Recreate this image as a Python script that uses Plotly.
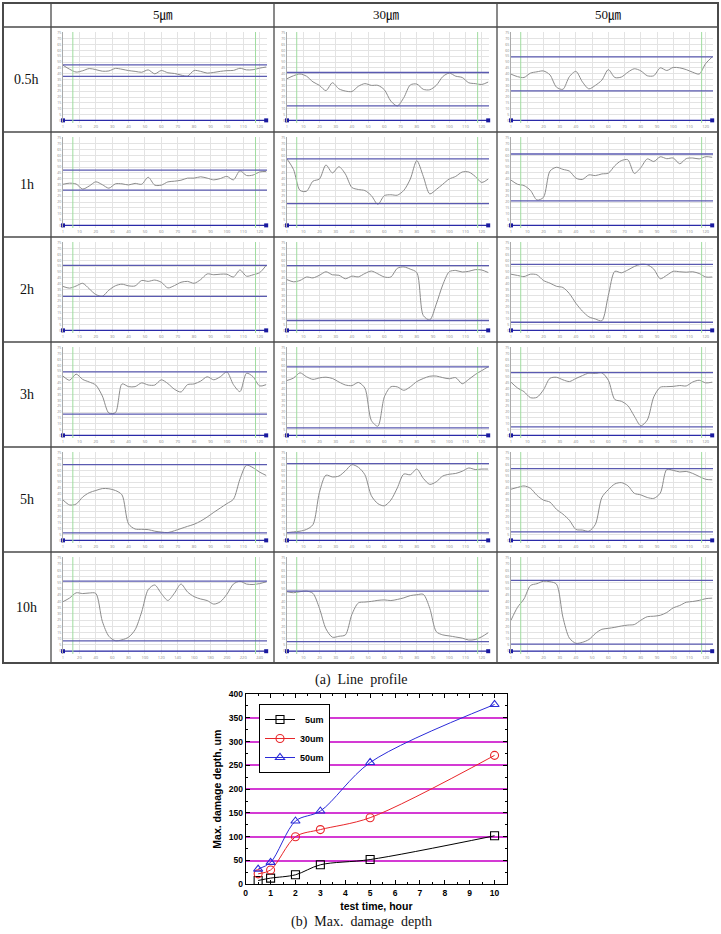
import plotly.graph_objects as go

W, H = 721, 934

# ---------------- (b) Max. damage depth ----------------
test_time = [0.5, 1, 2, 3, 5, 10]
depth_5um = [8, 13, 20, 41, 52, 102]
depth_30um = [22, 30, 100, 115, 140, 271]
depth_50um = [32, 46, 133, 154, 256, 378]
series_names = ["\u00a0\u00a05um", "30um", "50um"]

# ---------------- (a) Line profiles (relative height, % of panel) ----------------
time_labels = ["0.5h", "1h", "2h", "3h", "5h", "10h"]
size_labels = ["5\u339b", "30\u339b", "50\u339b"]

scan_pos = [0, 4, 8, 12, 16, 20, 24, 28, 32, 36, 40, 44, 48, 52, 56, 60,
            64, 68, 72, 76, 80, 84, 88, 92, 96, 100, 104, 108, 112, 116, 120, 124]
cursor_pos = [6, 117.5]

p05_5 = [63, 58.5, 55.2, 56.7, 59.2, 58, 56.2, 56.5, 59.4, 58.4, 56.9, 56, 55, 57.7, 53.2, 57,
         54.4, 53.6, 51.8, 50.6, 57, 56, 54, 54.8, 56, 56.8, 57.1, 59.5, 57.7, 57.9, 59.7, 61]
p05_30 = [47.6, 51, 53, 50.5, 44, 40, 34, 43, 36, 33.5, 33, 39, 42, 40, 40, 35,
          22, 16.5, 26, 40.5, 41.5, 35.5, 35, 40, 50, 54, 50.5, 49, 43, 42, 41, 43.8]
p05_50 = [52.8, 50, 49, 54, 55.5, 56.5, 52, 38, 35.5, 50, 56, 44, 36, 40, 46, 58,
          49, 49.5, 55, 59, 56.6, 51, 51, 60, 57, 60.5, 60, 58, 55, 53, 65, 72.5]
p1_5 = [47, 48.2, 47.3, 41.5, 45, 49.8, 46.5, 42.5, 47.5, 47.5, 46.2, 48, 47, 55, 46, 46,
        49.7, 50.5, 51.6, 54, 54, 55.5, 54, 52, 53.5, 56, 52, 62.5, 57, 57.5, 61, 61.7]
p1_30 = [75.9, 64, 40, 39, 50.5, 53, 69, 60, 67, 58.6, 43.3, 41, 39.8, 34, 24, 34,
         35, 34.5, 40, 53, 74, 56, 36, 41, 47, 53, 56, 61, 61, 56, 49, 52.9]
p1_50 = [51.7, 47, 45.5, 40, 29, 32, 62, 66.4, 64, 62, 54, 52.5, 57.7, 56.9, 58.8, 59.7,
         68.2, 74, 75, 59.4, 66, 76, 73, 78.4, 76.2, 77, 70.4, 76.3, 77, 76, 78.5, 77.8]
p2_5 = [50.2, 48.3, 50.7, 53.8, 47.5, 41, 39, 46, 51, 52.8, 50.9, 50.8, 57, 56, 57.5, 55,
        48.5, 51.2, 55, 56, 53.8, 58, 64.5, 63.6, 64.2, 64.2, 61, 69, 61.9, 63.5, 66, 74.3]
p2_30 = [58, 55.5, 57, 61, 60, 63, 67, 63.5, 63, 59, 62, 61.2, 65, 67.8, 64.6, 61,
         61, 71, 72.5, 70, 66, 17, 12, 30, 52, 67, 68.5, 66.7, 67.5, 69.4, 69, 66.1]
p2_50 = [64.2, 62.8, 61.5, 64.2, 63.5, 57, 54, 50.4, 49, 42, 31, 22, 15.5, 13, 11, 40,
         67.5, 65.8, 69, 73, 75.5, 75, 70, 59, 63, 67.5, 67, 66.5, 67, 65, 61, 61]
p3_5 = [67.8, 63, 70, 64, 61, 57.5, 45, 25.5, 26, 58.8, 55.7, 55.7, 60, 57.6, 57.5, 63.5,
        59.2, 52.7, 49.6, 58, 58.8, 62, 67, 63.5, 67, 72.5, 58, 50, 71, 67, 56.5, 58]
p3_30 = [62.7, 65.5, 71.5, 67, 64, 65.7, 66.5, 65, 61, 57.6, 56.9, 60.5, 54, 17, 10.5, 44,
         55.5, 55.4, 51.5, 55.5, 61.5, 65, 67.6, 67.8, 66, 64.7, 66, 59, 64, 69.5, 74, 78.4]
p3_50 = [60.8, 54.2, 50, 43.1, 43.5, 52, 65.2, 66.4, 63.5, 61.5, 65, 68.3, 71.2, 70.8, 71.5, 63,
         41, 39, 34, 22, 11, 17.6, 44, 55, 55.7, 56, 57, 56.5, 61, 63, 60, 60.8]
p5_5 = [46.2, 40.5, 41.5, 49.5, 54.5, 57, 59.2, 59, 57, 52, 18.8, 13, 12.6, 12.3, 10.5, 9.5,
        8.9, 11, 13.5, 16, 18.4, 22, 26.7, 32, 37, 42, 47, 70, 86, 83, 78, 74.2]
p5_30 = [8.8, 9.7, 10.5, 12.5, 18, 55, 74.5, 72.5, 73.5, 79.5, 86.5, 83.5, 75, 51, 42, 39.5,
         46, 60, 75.8, 75, 81.5, 70.9, 64, 67, 73.5, 75.6, 76.5, 79, 82.7, 81, 81.5, 81.5]
p5_50 = [58.5, 60.5, 62.2, 59.5, 51.5, 46, 43.7, 35.5, 30, 23, 12.5, 11.8, 10.5, 18.3, 49, 58,
         64.5, 66, 62.5, 53.8, 52, 49, 48, 54, 81, 80, 78.2, 78.8, 76.5, 73, 69.8, 69.2]
p10_5 = [53.1, 57, 62.6, 61.8, 62.4, 62, 32, 16, 11.2, 12.2, 15, 23, 42, 66, 71, 61.8,
         54.4, 62.2, 72, 63.5, 58.5, 56, 54.3, 50.5, 53, 61, 72, 75, 72, 71.5, 72.5, 74.4]
p10_30 = [63.7, 62.7, 63.8, 64.5, 62, 46, 24, 15, 16, 17.5, 39.5, 51.8, 52.7, 53.4, 54.5, 55,
          54.3, 55.5, 57.2, 59.6, 60.5, 61, 46, 21, 17.5, 16.4, 15.2, 14, 12, 12.5, 15.5, 19.8]
p10_50 = [33.2, 47, 56, 70.4, 72.4, 75, 74.5, 72, 36.4, 14, 8.5, 9.5, 12.5, 19, 23.5, 24.5,
          25.6, 27, 28, 28.6, 33.2, 37, 37.5, 38.5, 41.5, 46.5, 49, 52.5, 53.3, 54.5, 56.3, 56.9]

band_upper = [63.4, 54.7, 72.5, 63.2, 75.9, 81.6, 74.3, 73.9, 75.5,
              72.5, 78.4, 71.8, 86.5, 87.7, 81.9, 75.2, 64.5, 76]
band_lower = [50.2, 16.5, 33.6, 40.2, 24.9, 28, 38.9, 11.3, 9.3,
              24.3, 8.6, 9.8, 8.5, 8.5, 9.6, 11.1, 10.3, 7.6]

scan_ticks = ["1", "10", "20", "30", "40", "50", "60", "70", "80", "90", "100", "110", "120"]
scan_ticks_long = ["1", "20", "40", "60", "80", "100", "120", "140", "160", "180", "200", "220", "240"]
height_ticks = ["0", "5", "10", "15", "20", "25", "30", "35", "40", "45", "50", "55", "60", "65", "70", "75"]

profiles = [p05_5, p05_30, p05_50, p1_5, p1_30, p1_50, p2_5, p2_30, p2_50,
            p3_5, p3_30, p3_50, p5_5, p5_30, p5_50, p10_5, p10_30, p10_50]

# ---------------- geometry (pixels) ----------------
col_lines = [3, 51, 274, 497, 718]
row_lines = [3, 27, 132, 237, 342, 447, 552, 663]
plot_x = [(63, 267), (287, 489), (511, 713)]


def fx(x):
    return x / W


def fy(y):
    return 1 - y / H


fig = go.Figure()
layout = {}
shapes = []
annotations = []

GRID = "#e3e3e3"
for r in range(6):
    top, bot = row_lines[r + 1], row_lines[r + 2]
    for c in range(3):
        i = r * 3 + c
        k = i + 1
        xa = "x" if k == 1 else f"x{k}"
        ya = "y" if k == 1 else f"y{k}"
        xk = "xaxis" if k == 1 else f"xaxis{k}"
        yk = "yaxis" if k == 1 else f"yaxis{k}"
        x0, x1 = plot_x[c]
        xticks = scan_ticks_long if (r == 5 and c == 0) else scan_ticks
        layout[xk] = dict(
            domain=[fx(x0), fx(x1)], anchor=ya, range=[0, 124.5],
            tickvals=[0, 10, 20, 30, 40, 50, 60, 70, 80, 90, 100, 110, 120],
            ticktext=xticks, showgrid=True, gridcolor=GRID, gridwidth=1,
            zeroline=False, showline=False, ticks="",
            tickfont=dict(size=4, color="#888"), automargin=False, fixedrange=True,
        )
        layout[yk] = dict(
            domain=[fy(bot - 9), fy(top + 5)], anchor=xa, range=[-3, 101],
            tickvals=[j * 100 / 15 for j in range(16)], ticktext=height_ticks,
            showgrid=True, gridcolor=GRID, gridwidth=1, zeroline=False,
            showline=True, linecolor="#aaa", linewidth=1, ticks="",
            tickfont=dict(size=3.5, color="#888"), automargin=False, fixedrange=True,
        )
        # cursors (green)
        for cp in cursor_pos:
            shapes.append(dict(type="line", xref=xa, yref=f"{ya} domain",
                               x0=cp, x1=cp, y0=0, y1=1,
                               line=dict(color="#9fdc9f", width=1)))
        # max / min bands
        for lv in (band_upper[i], band_lower[i]):
            shapes.append(dict(type="line", xref=f"{xa} domain", yref=ya,
                               x0=0, x1=1, y0=lv, y1=lv,
                               line=dict(color="#5a5ab0", width=1.3)))
        fig.add_trace(go.Scatter(
            x=scan_pos, y=profiles[i], xaxis=xa, yaxis=ya, mode="lines",
            line=dict(color="#8c8c8c", width=1, shape="spline", smoothing=0.8),
            showlegend=False, hoverinfo="skip"))
        fig.add_trace(go.Scatter(
            x=[scan_pos[0], scan_pos[-1]], y=[0, 0], xaxis=xa, yaxis=ya,
            mode="lines+markers", cliponaxis=False,
            line=dict(color="#2a2aa8", width=1.3),
            marker=dict(symbol="square", size=4, color="#1a1aa0"),
            showlegend=False, hoverinfo="skip"))

# ---------------- table borders & labels ----------------
TC = "#4a4a4a"
for xl in col_lines[1:-1]:
    shapes.append(dict(type="line", xref="paper", yref="paper",
                       x0=fx(xl), x1=fx(xl), y0=fy(row_lines[0]), y1=fy(row_lines[-1]),
                       line=dict(color=TC, width=1.3)))
for yl in row_lines[1:-1]:
    shapes.append(dict(type="line", xref="paper", yref="paper",
                       x0=fx(col_lines[0]), x1=fx(col_lines[-1]), y0=fy(yl), y1=fy(yl),
                       line=dict(color=TC, width=1.3)))
shapes.append(dict(type="rect", xref="paper", yref="paper",
                   x0=fx(col_lines[0]), x1=fx(col_lines[-1]),
                   y0=fy(row_lines[-1]), y1=fy(row_lines[0]),
                   line=dict(color=TC, width=2)))

SERIF = "Liberation Serif, Times New Roman, Noto Sans CJK KR, serif"


def label(x, y, text, size):
    return dict(xref="paper", yref="paper", x=fx(x), y=fy(y), text=text,
                showarrow=False, xanchor="center", yanchor="middle",
                font=dict(family=SERIF, size=size, color="#111"))


for c, lab in enumerate(size_labels):
    cx = (col_lines[c + 1] + col_lines[c + 2]) / 2
    annotations.append(label(cx, 15, lab, 13))
for r, lab in enumerate(time_labels):
    cy = (row_lines[r + 1] + row_lines[r + 2]) / 2
    annotations.append(label(27, cy, lab, 14))

annotations.append(label(361, 680, "(a)\u00a0\u00a0Line\u00a0\u00a0profile", 14))
annotations.append(label(361, 922, "(b)\u00a0\u00a0Max.\u00a0\u00a0damage\u00a0\u00a0depth", 14))

# ---------------- main chart ----------------
SANS = "Liberation Sans, Arial, sans-serif"
main_series = [
    (depth_5um, "black", "square-open"),
    (depth_30um, "#e8262a", "circle-open"),
    (depth_50um, "#2b2bd8", "triangle-up-open"),
]
for (vals, col, sym), name in zip(main_series, series_names):
    fig.add_trace(go.Scatter(
        x=test_time, y=vals, name=name, xaxis="x19", yaxis="y19",
        mode="lines+markers",
        line=dict(color=col, width=1, shape="spline", smoothing=0.9),
        marker=dict(symbol=sym, size=8, color=col, line=dict(width=1.1, color=col)),
        cliponaxis=False))

layout["xaxis19"] = dict(
    domain=[fx(245.7), fx(507)], anchor="y19", range=[0, 10.5],
    tickmode="linear", tick0=0, dtick=1, ticks="inside", ticklen=4,
    tickcolor="black", mirror="allticks", showline=True, linecolor="black",
    linewidth=1, showgrid=False, zeroline=False,
    minor=dict(ticks="inside", ticklen=2, dtick=0.5, tickcolor="black"),
    tickfont=dict(family=SANS, size=8.5, color="black", weight="bold"),
    title=dict(text="test time, hour", standoff=6,
               font=dict(family=SANS, size=10.5, color="black", weight="bold")),
    automargin=False,
)
layout["yaxis19"] = dict(
    domain=[fy(884.3), fy(694)], anchor="x19", range=[0, 400],
    tickmode="linear", tick0=0, dtick=50, ticks="inside", ticklen=4,
    tickcolor="black", mirror="allticks", showline=True, linecolor="black",
    linewidth=1, showgrid=True, gridcolor="#d43ad4", gridwidth=1.5, zeroline=False,
    minor=dict(ticks="inside", ticklen=2, dtick=25, tickcolor="black"),
    tickfont=dict(family=SANS, size=8.5, color="black", weight="bold"),
    title=dict(text="Max. damage depth, um", standoff=5,
               font=dict(family=SANS, size=10.5, color="black", weight="bold")),
    automargin=False,
)

fig.update_layout(
    width=W, height=H, margin=dict(l=0, r=0, t=0, b=0),
    paper_bgcolor="white", plot_bgcolor="white",
    shapes=shapes, annotations=annotations,
    legend=dict(x=fx(259), y=fy(704), xanchor="left", yanchor="top",
                bgcolor="white", bordercolor="black", borderwidth=1,
                itemwidth=30, tracegroupgap=0,
                font=dict(family=SANS, size=9, color="black", weight="bold")),
    **layout,
)

fig.write_html("out.html")
